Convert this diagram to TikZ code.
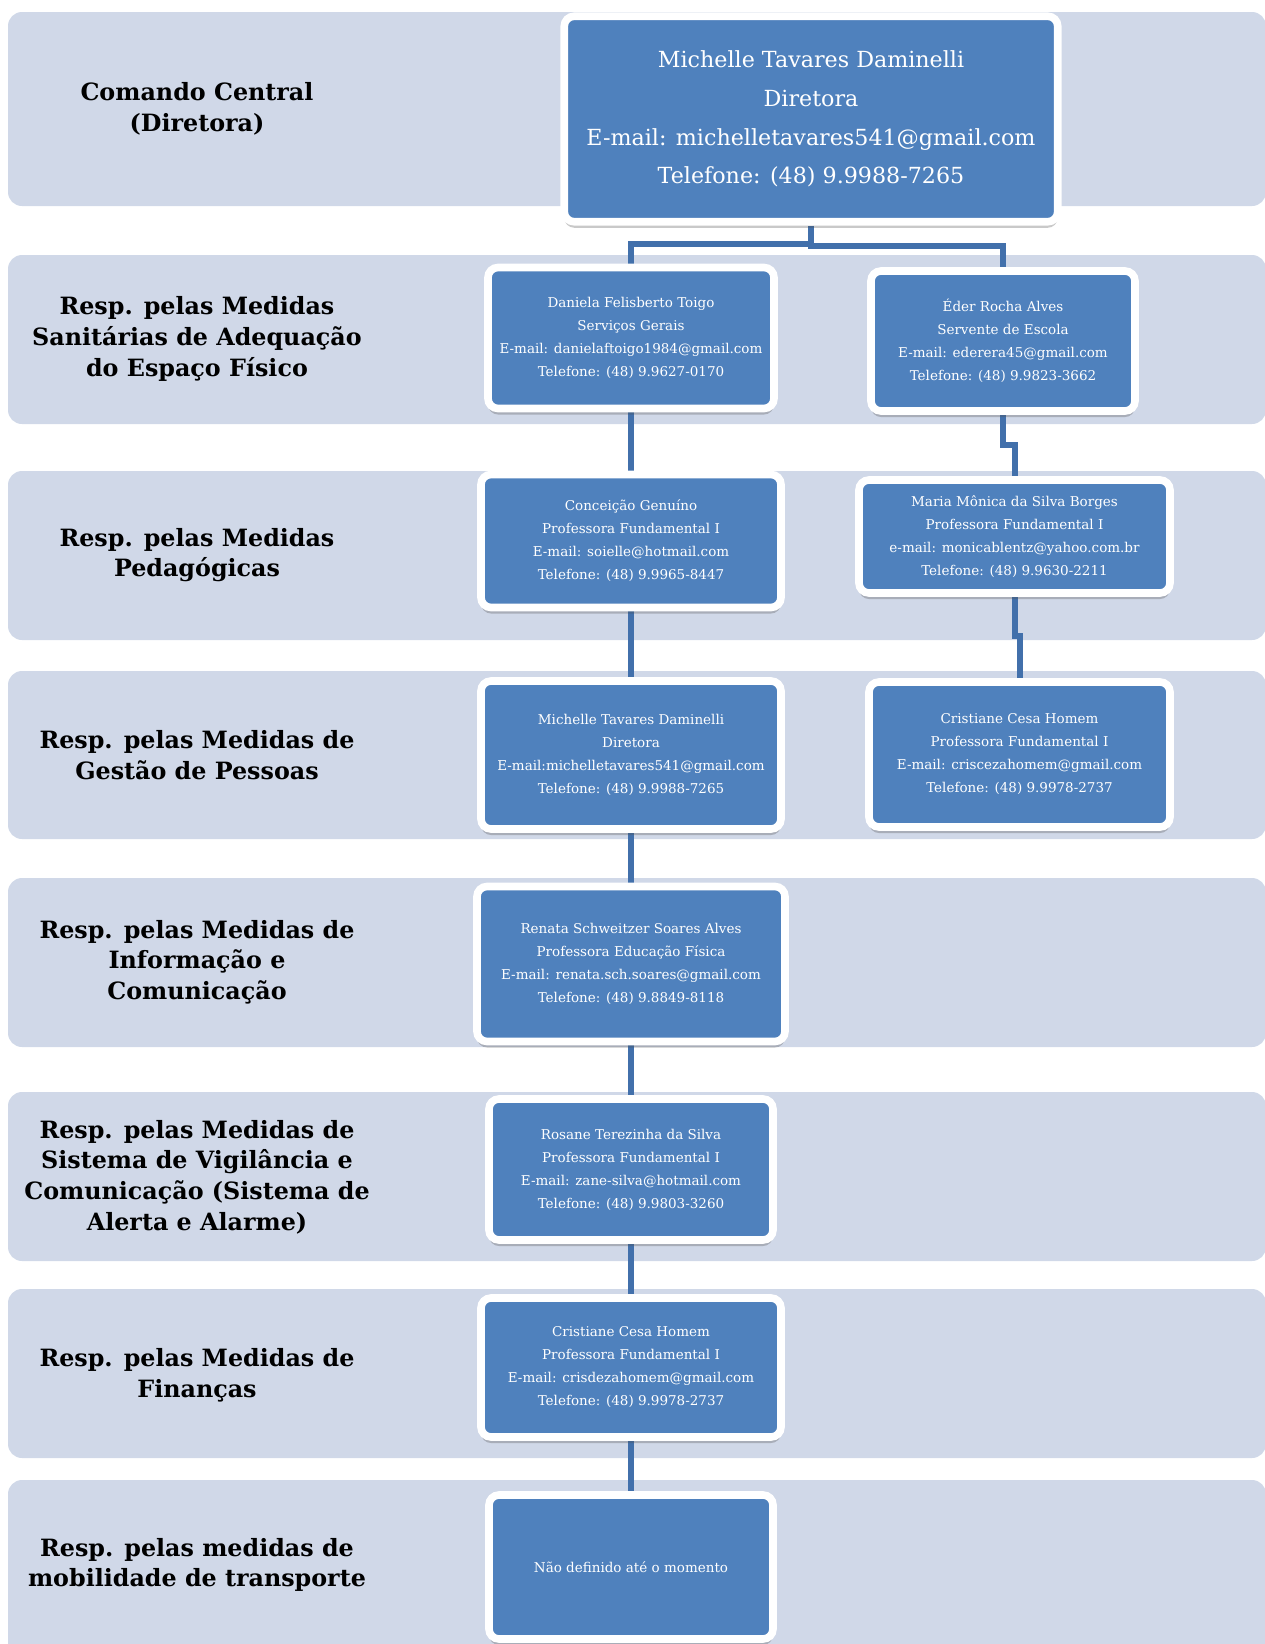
\documentclass[tikz,border=0pt]{standalone}
\usepackage{fontspec}
\setmainfont{DejaVu Serif}
\usetikzlibrary{shadows}

\definecolor{bandfill}{HTML}{D0D8E8}
\definecolor{boxfill}{HTML}{4F81BD}
\definecolor{linkblue}{HTML}{4270AB}

\pgfdeclarelayer{bands}
\pgfdeclarelayer{links}
\pgfsetlayers{bands,links,main}

\tikzset{
    band/.style={fill=bandfill, rounded corners=7pt},
    rowlabel/.style={align=center, font=\bfseries\fontsize{11.9}{15.3}\selectfont},
    person/.style={draw=white, line width=3.8pt, fill=boxfill, rounded corners=5pt,
        text=white, align=center, inner sep=0pt,
        font=\fontsize{6.75}{11.5}\selectfont,
        drop shadow={shadow xshift=0pt, shadow yshift=-3pt, opacity=0.3, fill=black!70}},
    chief/.style={person, font=\fontsize{11.1}{19.4}\selectfont},
    link/.style={linkblue, line width=3pt},
}

\begin{document}
\begin{tikzpicture}[x=0.5pt, y=-0.5pt]
            \useasboundingbox (0,0) rectangle (1264,1644);
            \clip (0,0) rectangle (1264,1644);
            \begin{pgfonlayer}{bands}
                \foreach \top/\bot in {12/206, 255/424, 471/640, 671/839, 878/1047, 1092/1261, 1289/1458, 1480/1670}{
                    \fill[band] (8,\top) rectangle (1266,\bot);
                }
            \end{pgfonlayer}
            \node[rowlabel] (lbcomando) at (197,109) {Comando Central\\(Diretora)};
            \node[rowlabel] (lbsanit) at (197,339) {Resp. pelas Medidas\\Sanitárias de Adequação\\do Espaço Físico};
            \node[rowlabel] (lbpedag) at (197,555) {Resp. pelas Medidas\\Pedagógicas};
            \node[rowlabel] (lbgestao) at (197,755) {Resp. pelas Medidas de\\Gestão de Pessoas};
            \node[rowlabel] (lbinfo) at (197,962) {Resp. pelas Medidas de\\Informação e\\Comunicação};
            \node[rowlabel] (lbvigil) at (197,1177) {Resp. pelas Medidas de\\Sistema de Vigilância e\\Comunicação (Sistema de\\Alerta e Alarme)};
            \node[rowlabel] (lbfinanc) at (197,1375) {Resp. pelas Medidas de\\Finanças};
            \node[rowlabel] (lbmobil) at (197,1565) {Resp. pelas medidas de\\mobilidade de transporte};

            \node[chief, minimum width=246.75pt, minimum height=102.75pt] (diretora) at (811,119)
                {Michelle Tavares Daminelli\\Diretora\\E-mail: michelletavares541@gmail.com\\Telefone: (48) 9.9988-7265};
            \node[person, minimum width=143pt, minimum height=70.5pt] (daniela) at (631,338)
                {Daniela Felisberto Toigo\\Serviços Gerais\\E-mail: danielaftoigo1984@gmail.com\\Telefone: (48) 9.9627-0170};
            \node[person, minimum width=132pt, minimum height=70pt] (eder) at (1003,341)
                {Éder Rocha Alves\\Servente de Escola\\E-mail: ederera45@gmail.com\\Telefone: (48) 9.9823-3662};
            \node[person, minimum width=150pt, minimum height=66.5pt] (conceicao) at (631,541)
                {Conceição Genuíno\\Professora Fundamental I\\E-mail: soielle@hotmail.com\\Telefone: (48) 9.9965-8447};
            \node[person, minimum width=155.5pt, minimum height=56.5pt] (monica) at (1014.5,536.5)
                {Maria Mônica da Silva Borges\\Professora Fundamental I\\e-mail: monicablentz@yahoo.com.br\\Telefone: (48) 9.9630-2211};
            \node[person, minimum width=150pt, minimum height=74pt] (michelle) at (631,755)
                {Michelle Tavares Daminelli\\Diretora\\E-mail:michelletavares541@gmail.com\\Telefone: (48) 9.9988-7265};
            \node[person, minimum width=150.5pt, minimum height=72.5pt] (cristiane) at (1019.5,754.5)
                {Cristiane Cesa Homem\\Professora Fundamental I\\E-mail: criscezahomem@gmail.com\\Telefone: (48) 9.9978-2737};
            \node[person, minimum width=154pt, minimum height=77.5pt] (renata) at (631,964)
                {Renata Schweitzer Soares Alves\\Professora Educação Física\\E-mail: renata.sch.soares@gmail.com\\Telefone: (48) 9.8849-8118};
            \node[person, minimum width=142pt, minimum height=70.5pt] (rosane) at (631,1169.5)
                {Rosane Terezinha da Silva\\Professora Fundamental I\\E-mail: zane-silva@hotmail.com\\Telefone: (48) 9.9803-3260};
            \node[person, minimum width=150pt, minimum height=69.5pt] (cristfin) at (631,1367.5)
                {Cristiane Cesa Homem\\Professora Fundamental I\\E-mail: crisdezahomem@gmail.com\\Telefone: (48) 9.9978-2737};
            \node[person, minimum width=142pt, minimum height=72pt] (naodef) at (631,1567)
                {Não definido até o momento};

            \begin{pgfonlayer}{links}
                \draw[link] (diretora.south) -- (811,244) -| (daniela.north);
                \draw[link] (diretora.south) -- (811,246) -| (eder.north);
                \draw[link] (daniela) -- (conceicao);
                \draw[link] (eder.south) -- (1003,445) -| (monica.north);
                \draw[link] (conceicao) -- (michelle);
                \draw[link] (monica.south) -- (1014.5,636) -| (cristiane.north);
                \draw[link] (michelle) -- (renata);
                \draw[link] (renata) -- (rosane);
                \draw[link] (rosane) -- (cristfin);
                \draw[link] (cristfin) -- (naodef);
            \end{pgfonlayer}
        \end{tikzpicture}
\end{document}
